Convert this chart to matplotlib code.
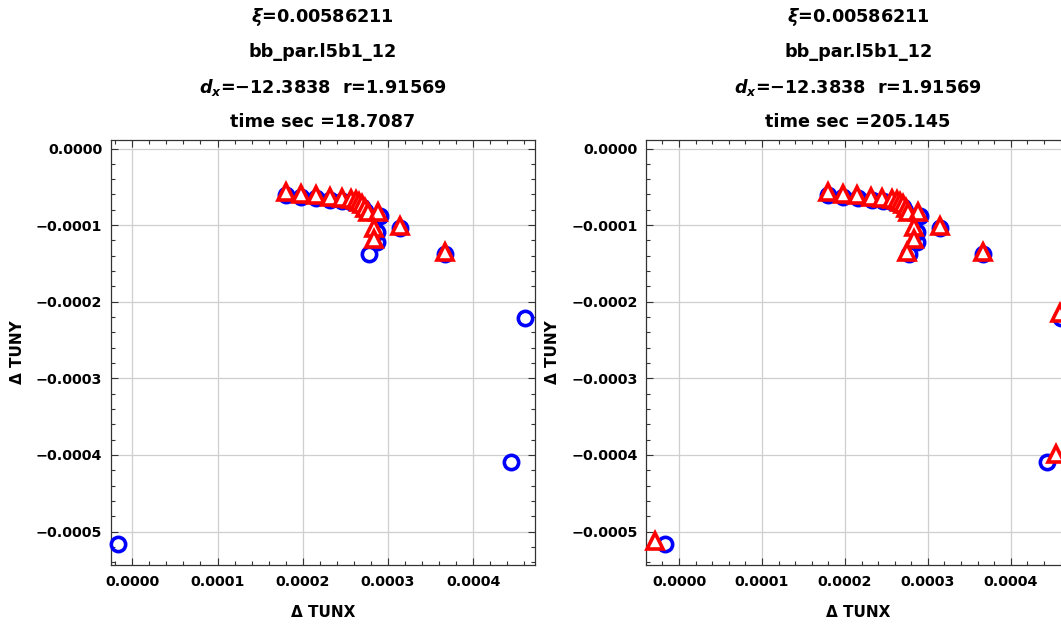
import numpy as np
import matplotlib.pyplot as plt
from matplotlib.ticker import MultipleLocator, FuncFormatter

plt.rcParams['font.family'] = 'DejaVu Sans'
plt.rcParams['font.weight'] = 'bold'
plt.rcParams['mathtext.fontset'] = 'custom'
plt.rcParams['mathtext.rm'] = 'DejaVu Sans:bold'
plt.rcParams['mathtext.it'] = 'DejaVu Sans:italic:bold'
plt.rcParams['mathtext.bf'] = 'DejaVu Sans:bold'

# blue circles (same in both panels)
circ_x = [0.0001799, 0.0001979, 0.0002155, 0.0002322, 0.0002465, 0.0002565, 0.0002620,
          0.0002659, 0.0002698, 0.0002730, 0.0002901, 0.0002867, 0.0002867, 0.0002777,
          0.0003144, 0.0003668, 0.0004606, 0.0004439, -0.0000172]
circ_y = [-0.0000612, -0.0000630, -0.0000648, -0.0000668, -0.0000688, -0.0000702, -0.0000716,
          -0.0000734, -0.0000765, -0.0000818, -0.0000877, -0.0001086, -0.0001217, -0.0001377,
          -0.0001042, -0.0001377, -0.0002213, -0.0004089, -0.0005163]

# red triangles, left panel (t = 18.7087)
tri1_x = [0.0001799, 0.0001979, 0.0002155, 0.0002322, 0.0002465, 0.0002565, 0.0002620,
          0.0002659, 0.0002698, 0.0002730, 0.0002768, 0.0002878, 0.0002838, 0.0002835,
          0.0003144, 0.0003668]
tri1_y = [-0.0000572, -0.0000590, -0.0000607, -0.0000629, -0.0000650, -0.0000663, -0.0000676,
          -0.0000694, -0.0000728, -0.0000780, -0.0000833, -0.0000825, -0.0001034, -0.0001182,
          -0.0001012, -0.0001347]

# red triangles, right panel (t = 205.145)
tri2_x = [0.0001792, 0.0001973, 0.0002150, 0.0002315, 0.0002451, 0.0002564, 0.0002624,
          0.0002664, 0.0002697, 0.0002733, 0.0002765, 0.0002877, 0.0002837, 0.0002837,
          0.0002745, 0.0003150, 0.0003669, 0.0004593, 0.0004541, -0.0000289]
tri2_y = [-0.0000572, -0.0000590, -0.0000607, -0.0000629, -0.0000650, -0.0000663, -0.0000676,
          -0.0000694, -0.0000728, -0.0000780, -0.0000833, -0.0000825, -0.0001029, -0.0001182,
          -0.0001355, -0.0001012, -0.0001347, -0.0002152, -0.0003985, -0.0005124]

titles = [
    [r'$\xi$=0.00586211', 'bb_par.l5b1_12', r'$d_x$=−12.3838  r=1.91569', 'time sec =18.7087'],
    [r'$\xi$=0.00586211', 'bb_par.l5b1_12', r'$d_x$=−12.3838  r=1.91569', 'time sec =205.145'],
]
xlims = [(-0.0000253, 0.0004724), (-0.0000398, 0.0004717)]
ylim = (-0.0005437, 0.0000111)

W, H = 1061, 628
fig = plt.figure(figsize=(W / 100, H / 100), dpi=100)


def fmt(v, pos):
    if abs(v) < 1e-12:
        v = 0.0
    return f'{v:.4f}'.replace('-', '\u2212')


axes_px = [(110.7, 535.0), (646.0, 1070.3)]
tri_sets = [(tri1_x, tri1_y), (tri2_x, tri2_y)]
for i in range(2):
    x0, x1 = axes_px[i]
    ax = fig.add_axes([x0 / W, 1 - 565 / H, (x1 - x0) / W, (565 - 140) / H])
    ax.plot(circ_x, circ_y, 'o', ms=10.3, mfc='none', mec='blue', mew=2.6,
            clip_on=False, zorder=3)
    tx, ty = tri_sets[i]
    ax.plot(tx, ty, '^', ms=11.8, mfc='white', mec='red', mew=2.6,
            clip_on=False, zorder=4)
    ax.set_xlim(*xlims[i])
    ax.set_ylim(*ylim)
    ax.xaxis.set_major_locator(MultipleLocator(0.0001))
    ax.xaxis.set_minor_locator(MultipleLocator(0.00002))
    ax.yaxis.set_major_locator(MultipleLocator(0.0001))
    ax.yaxis.set_minor_locator(MultipleLocator(0.00002))
    ax.xaxis.set_major_formatter(FuncFormatter(fmt))
    ax.yaxis.set_major_formatter(FuncFormatter(fmt))
    ax.tick_params(which='both', direction='in', top=True, right=True,
                   labelsize=10.3, width=0.8, color='#333333')
    ax.tick_params(which='major', length=5)
    ax.tick_params(which='minor', length=2.8)
    ax.tick_params(axis='x', pad=7)
    ax.tick_params(axis='y', pad=6)
    for sp in ax.spines.values():
        sp.set_color('#333333')
        sp.set_linewidth(0.9)
    ax.grid(True, which='major', color='#cfcfcf', lw=0.9)
    ax.set_axisbelow(True)
    ax.set_xlabel('Δ TUNX', fontsize=11, fontweight='bold', labelpad=12)
    ax.set_ylabel('Δ TUNY', fontsize=11, fontweight='bold', labelpad=8)

    cx = (x0 + x1) / 2 / W
    for j, (line, yp) in enumerate(zip(titles[i], [17.3, 51.7, 87.3, 121.7])):
        fig.text(cx, 1 - yp / H, line, ha='center', va='center',
                 fontsize=12.7, fontweight='bold')

fig.savefig('out.png', dpi=100)
